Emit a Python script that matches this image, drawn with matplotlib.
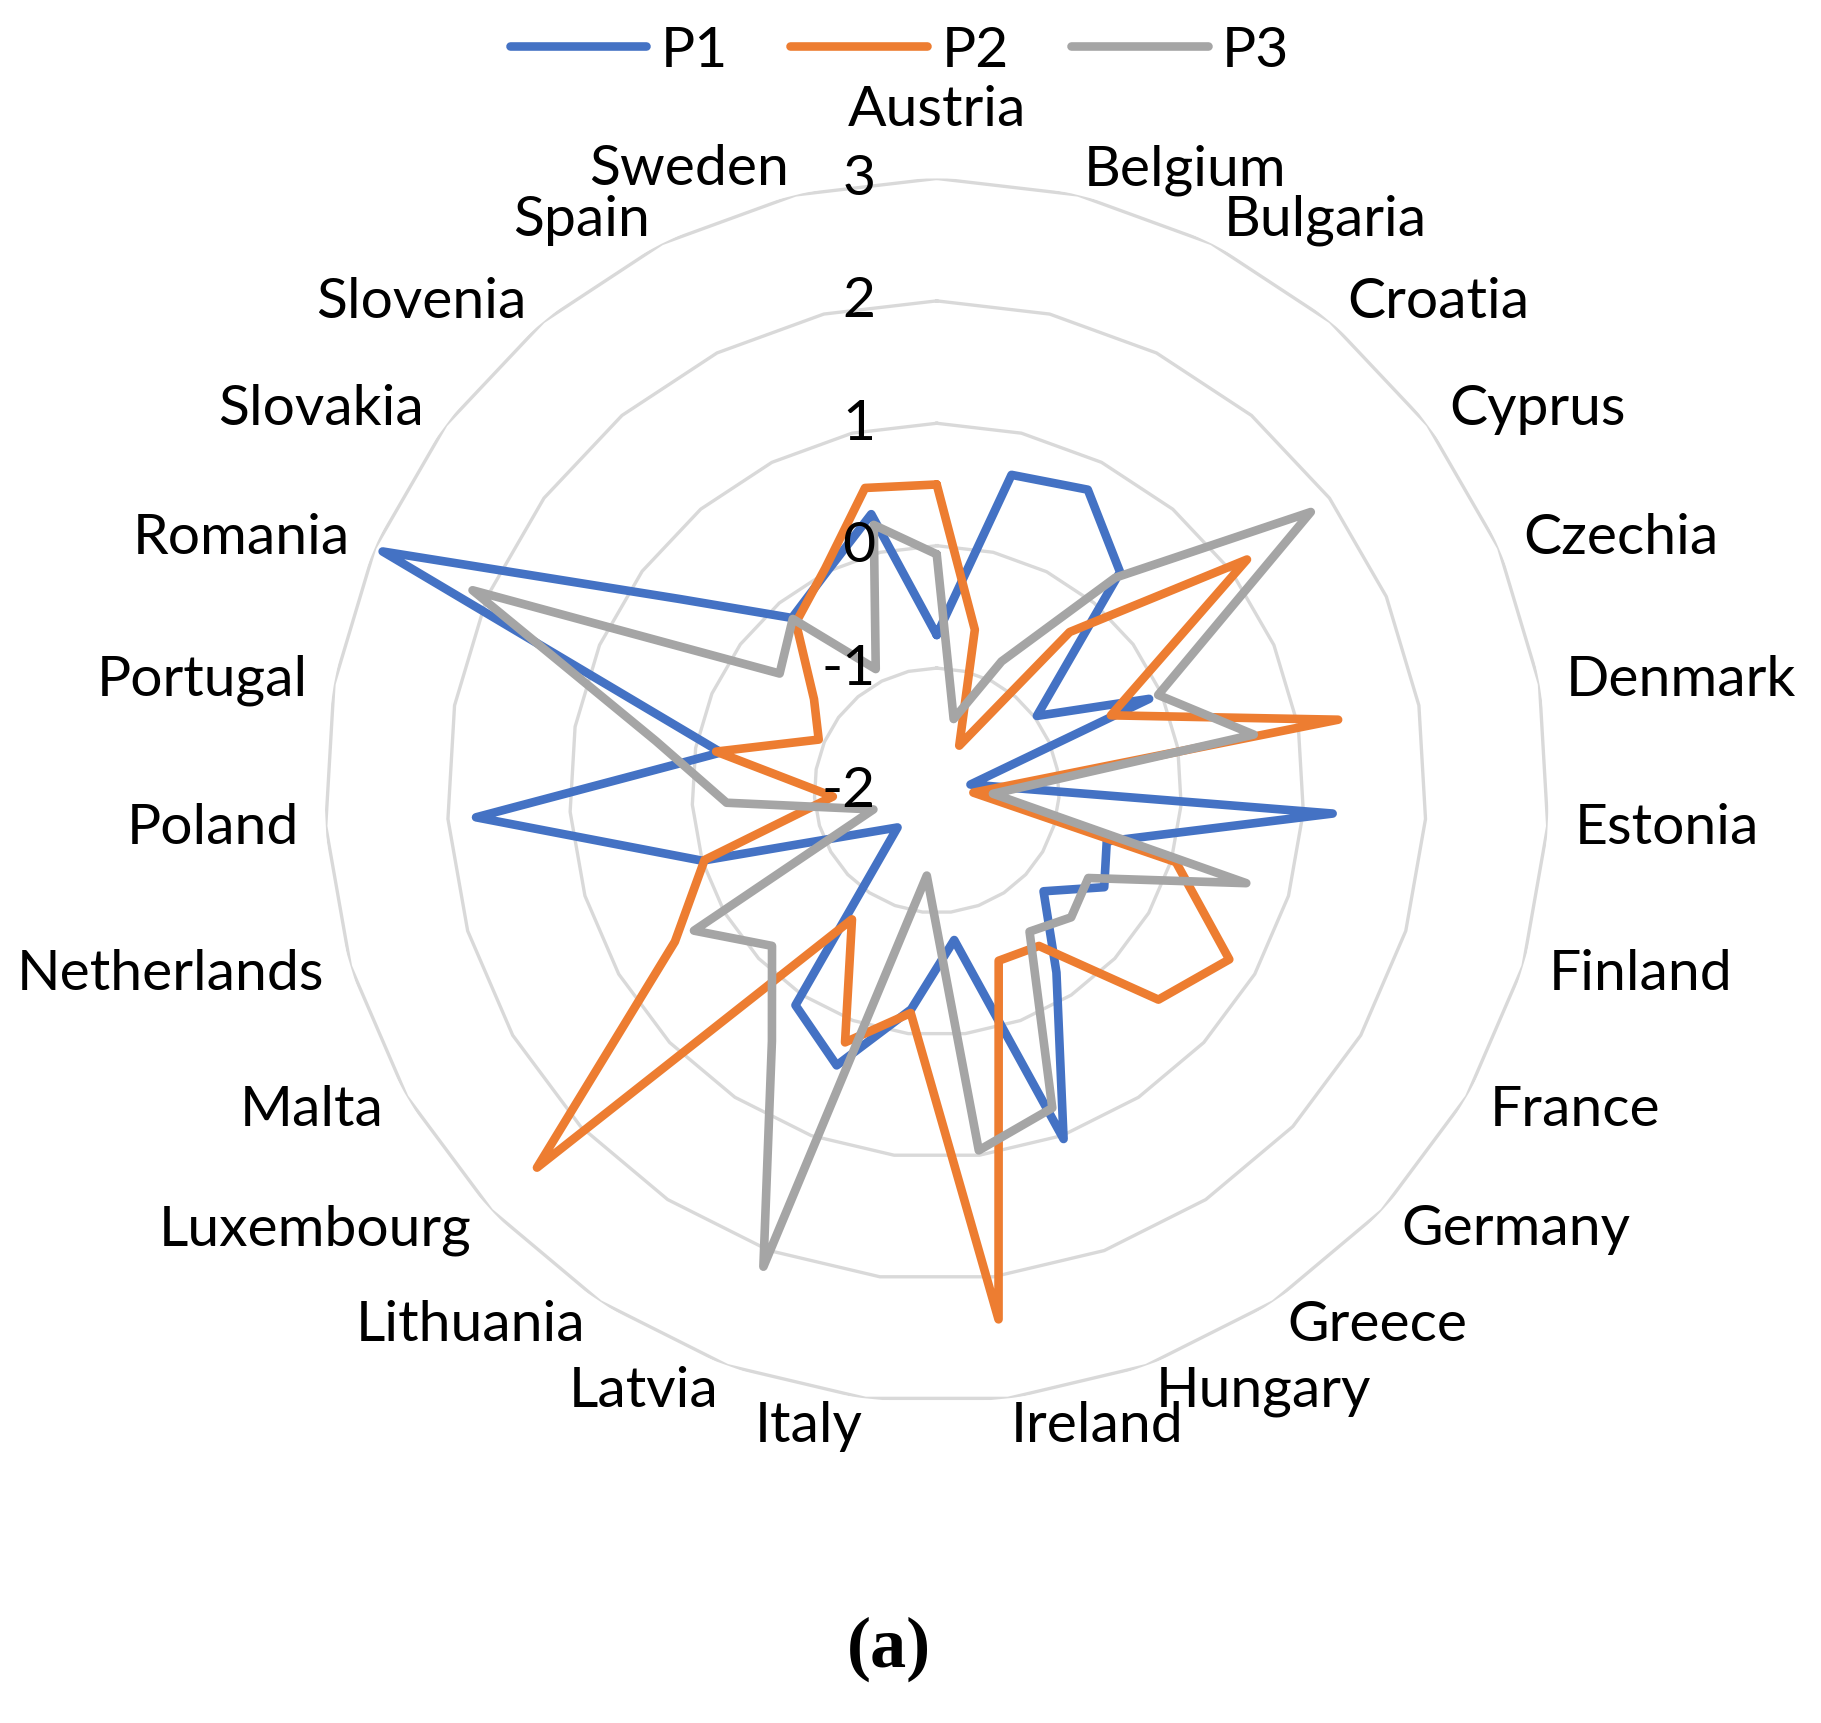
import numpy as np
import matplotlib.pyplot as plt

plt.rcParams.update({
    "font.family": ["Lato", "DejaVu Sans"],
    "font.size": 41,
})

countries = ["Austria", "Belgium", "Bulgaria", "Croatia", "Cyprus", "Czechia",
             "Denmark", "Estonia", "Finland", "France", "Germany", "Greece",
             "Hungary", "Ireland", "Italy", "Latvia", "Lithuania", "Luxembourg",
             "Malta", "Netherlands", "Poland", "Portugal", "Romania", "Slovakia",
             "Slovenia", "Spain", "Sweden"]

p1 = [-0.73, 0.65, 0.75, 0.33, -0.98, -0.11, -1.72, 1.24, -0.55, -0.42,
      -0.80, -0.22, 1.03, -0.77, -0.20, 0.39, 0.10, -1.56, -1.30, 0.00,
      1.77, -0.21, 2.93, 0.62, -0.16, 0.00, 0.32]
p2 = [0.50, -0.65, -1.59, -0.31, 1.16, -0.45, 1.33, -1.70, 0.04, 0.76,
      0.49, -0.48, -0.52, 2.35, -0.17, 0.19, -0.74, 2.49, 0.47, -0.02,
      -1.15, -0.17, -0.95, -0.75, -0.21, 0.03, 0.54]
p3 = [-0.07, -1.40, -0.82, 0.27, 1.81, -0.03, 0.63, -1.54, 0.64, -0.57,
      -0.49, -0.62, 0.76, 0.96, -1.30, 2.14, 0.45, -0.15, 0.29, -1.46,
      -0.28, 0.33, 2.13, -0.40, -0.17, -0.89, 0.23]

series_names = ["P1", "P2", "P3"]
series_colors = ["#4472C4", "#ED7D31", "#A5A5A5"]
r_ticks = [-2, -1, 0, 1, 2, 3]

fig = plt.figure(figsize=(18.21, 17.24), dpi=100)
ax = fig.add_axes([0.1783, 0.1859, 0.6722, 0.710], projection="polar")
ax.set_theta_zero_location("N")
ax.set_theta_direction(-1)
ax.set_ylim(r_ticks[0], r_ticks[-1])

n = len(countries)
theta = np.linspace(0, 2 * np.pi, n, endpoint=False)
theta_c = np.append(theta, theta[0])

# polygon gridlines (Excel radar style)
for v in r_ticks[1:]:
    ax.plot(theta_c, [v] * (n + 1), color="#D9D9D9", lw=2.4, zorder=1)

for vals, name, col in zip([p1, p2, p3], series_names, series_colors):
    ax.plot(theta_c, vals + vals[:1], color=col, lw=6.2, label=name,
            solid_joinstyle="round", solid_capstyle="round", zorder=3)

ax.grid(False)
ax.spines["polar"].set_visible(False)
ax.set_xticks([])
ax.set_yticks([])

# category labels
for t, name in zip(theta, countries):
    s = np.sin(t)
    if abs(s) < 0.05:
        ax.text(t, 3.56, name, ha="center", va="center")
    elif s > 0:
        ax.text(t, 3.22, name, ha="left", va="center")
    else:
        ax.text(t, 3.22, name, ha="right", va="center")

# value axis labels
for v in r_ticks:
    ax.annotate(str(v), xy=(0, v), xytext=(-44, 0), textcoords="offset points",
                ha="right", va="center", zorder=5)

fig.legend(loc="center", bbox_to_anchor=(0.494, 0.970), ncol=3, frameon=False,
           handlelength=2.4, handletextpad=0.25, columnspacing=1.1)

fig.text(0.488, 0.0434, "(a)", family="Liberation Serif", weight="bold",
         size=52, ha="center", va="center")

fig.savefig("out.png", dpi=100)
